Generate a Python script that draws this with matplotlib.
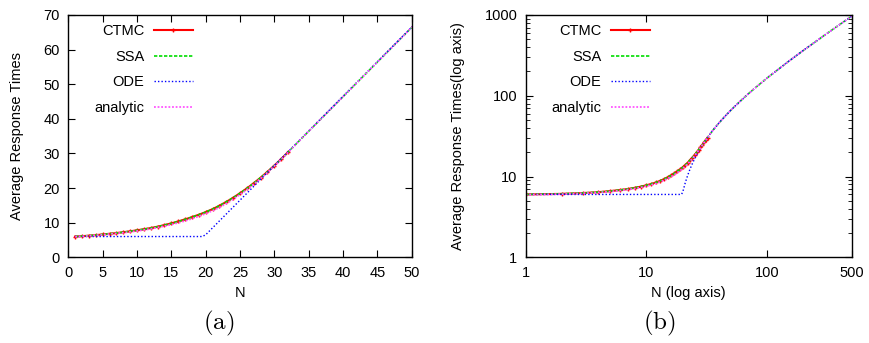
import matplotlib
matplotlib.use("Agg")
import matplotlib.pyplot as plt
from matplotlib.ticker import FixedLocator, NullLocator, LogLocator, NullFormatter

plt.rcParams['font.family'] = ['Liberation Sans', 'DejaVu Sans']
plt.rcParams['mathtext.fontset'] = 'cm'

# ---- data ----
N_ctmc = list(range(1, 33))
ctmc = [6.0, 6.1, 6.25, 6.4, 6.6, 6.8, 7.0, 7.25, 7.5, 7.8,
        8.1, 8.45, 8.85, 9.3, 9.8, 10.35, 10.95, 11.6, 12.3, 13.05,
        13.9, 14.9, 16.0, 17.2, 18.5, 19.9, 21.4, 23.0, 24.7, 26.5,
        28.4, 30.4]

N_ext = list(range(1, 33)) + [34, 36, 38, 40, 45, 50, 60, 70, 80, 100,
                              150, 200, 300, 400, 500]
ssa = [6.0, 6.12, 6.25, 6.42, 6.6, 6.8, 7.02, 7.25, 7.52, 7.8,
       8.12, 8.45, 8.85, 9.3, 9.8, 10.33, 10.95, 11.6, 12.3, 13.05,
       13.9, 14.9, 16.0, 17.2, 18.5, 19.9, 21.4, 23.0, 24.7, 26.5,
       28.4, 30.4, 34.4, 38.4, 42.4, 46.4, 56.4, 66.4, 86.4, 106.4,
       126.5, 166.5, 266.5, 366.5, 566.5, 766.5, 966.5]
analytic = [5.95, 6.05, 6.2, 6.35, 6.5, 6.7, 6.9, 7.1, 7.35, 7.6,
            7.9, 8.2, 8.6, 9.0, 9.45, 9.95, 10.5, 11.15, 11.85, 12.6,
            13.45, 14.4, 15.5, 16.75, 18.1, 19.55, 21.1, 22.75, 24.5, 26.35,
            28.3, 30.3, 34.4, 38.4, 42.4, 46.4, 56.4, 66.4, 86.4, 106.4,
            126.5, 166.5, 266.5, 366.5, 566.5, 766.5, 966.5]

N_ode = [1, 19.5, 20, 21, 22, 23, 24, 25, 27, 30, 35, 40, 50,
         70, 100, 150, 200, 300, 500]
ode = [6.0, 6.0, 6.5, 8.5, 10.5, 12.5, 14.5, 16.5, 20.5, 26.5, 36.5, 46.5, 66.5,
       106.5, 166.5, 266.5, 366.5, 566.5, 966.5]

labels = ["CTMC", "SSA", "ODE", "analytic"]

# ---- figure ----
W, H = 869, 343
fig = plt.figure(figsize=(W / 100, H / 100), dpi=100)

def axrect(l, r, t, b):
    return [l / W, 1 - b / H, (r - l) / W, (b - t) / H]

axL = fig.add_axes(axrect(68.3, 411.7, 15, 257.3))
axR = fig.add_axes(axrect(525.7, 851.7, 15, 257.3))

FS = 10.5

def draw(ax):
    ax.plot(N_ctmc, ctmc, color='#ff0000', lw=1.5, marker='+', ms=3.5, mew=1.0,
            label=labels[0])
    ax.plot(N_ext, ssa, color='#00dd00', lw=1.2, ls=(0, (2, 1)), label=labels[1])
    ax.plot(N_ode, ode, color='#0000ff', lw=1.0, ls=(0, (1, 1.5)), label=labels[2])
    ax.plot(N_ext, analytic, color='#ff55ff', lw=1.3, ls=(0, (1, 1)), label=labels[3])
    for s in ax.spines.values():
        s.set_linewidth(1.0)
    ax.tick_params(which='both', direction='in', top=True, right=True,
                   labelsize=FS, pad=6)
    ax.tick_params(which='major', length=5, width=0.8)
    ax.tick_params(which='minor', length=3, width=0.6)

# left
draw(axL)
axL.set_xlim(0, 50)
axL.set_ylim(0, 70)
axL.set_xticks(range(0, 51, 5))
axL.set_yticks(range(0, 71, 10))
axL.set_xlabel("N", fontsize=FS)
axL.set_ylabel("Average Response Times", fontsize=FS)
axL.xaxis.set_label_coords(0.5, -0.12)
axL.yaxis.set_label_coords(-0.129, 0.5)

# right
draw(axR)
axR.set_xscale('log')
axR.set_yscale('log')
axR.set_xlim(1, 500)
axR.set_ylim(1, 1000)
axR.xaxis.set_major_locator(FixedLocator([1, 10, 100, 500]))
axR.xaxis.set_minor_locator(NullLocator())
axR.set_xticklabels(["1", "10", "100", "500"])
axR.yaxis.set_major_locator(FixedLocator([1, 10, 100, 1000]))
axR.set_yticklabels(["1", "10", "100", "1000"])
axR.yaxis.set_minor_locator(LogLocator(base=10, subs=range(2, 10)))
axR.yaxis.set_minor_formatter(NullFormatter())
axR.set_xlabel("N (log axis)", fontsize=FS)
axR.set_ylabel("Average Response Times(log axis)", fontsize=FS)
axR.xaxis.set_label_coords(0.5, -0.12)
axR.yaxis.set_label_coords(-0.186, 0.5)

for ax, xr in ((axL, (193 - 68.3) / 343.4), (axR, (650 - 525.7) / 326)):
    ax.legend(loc='upper right', bbox_to_anchor=(xr, 0.963), frameon=False,
              markerfirst=False, fontsize=FS, handlelength=2.7,
              handletextpad=0.65, labelspacing=0.8, borderpad=0, borderaxespad=0)

fig.text(219 / W, 1 - 323 / H, r"$\mathrm{(a)}$", ha='center', va='center', fontsize=18)
fig.text(659 / W, 1 - 323 / H, r"$\mathrm{(b)}$", ha='center', va='center', fontsize=18)

fig.savefig("out.png", dpi=100)
